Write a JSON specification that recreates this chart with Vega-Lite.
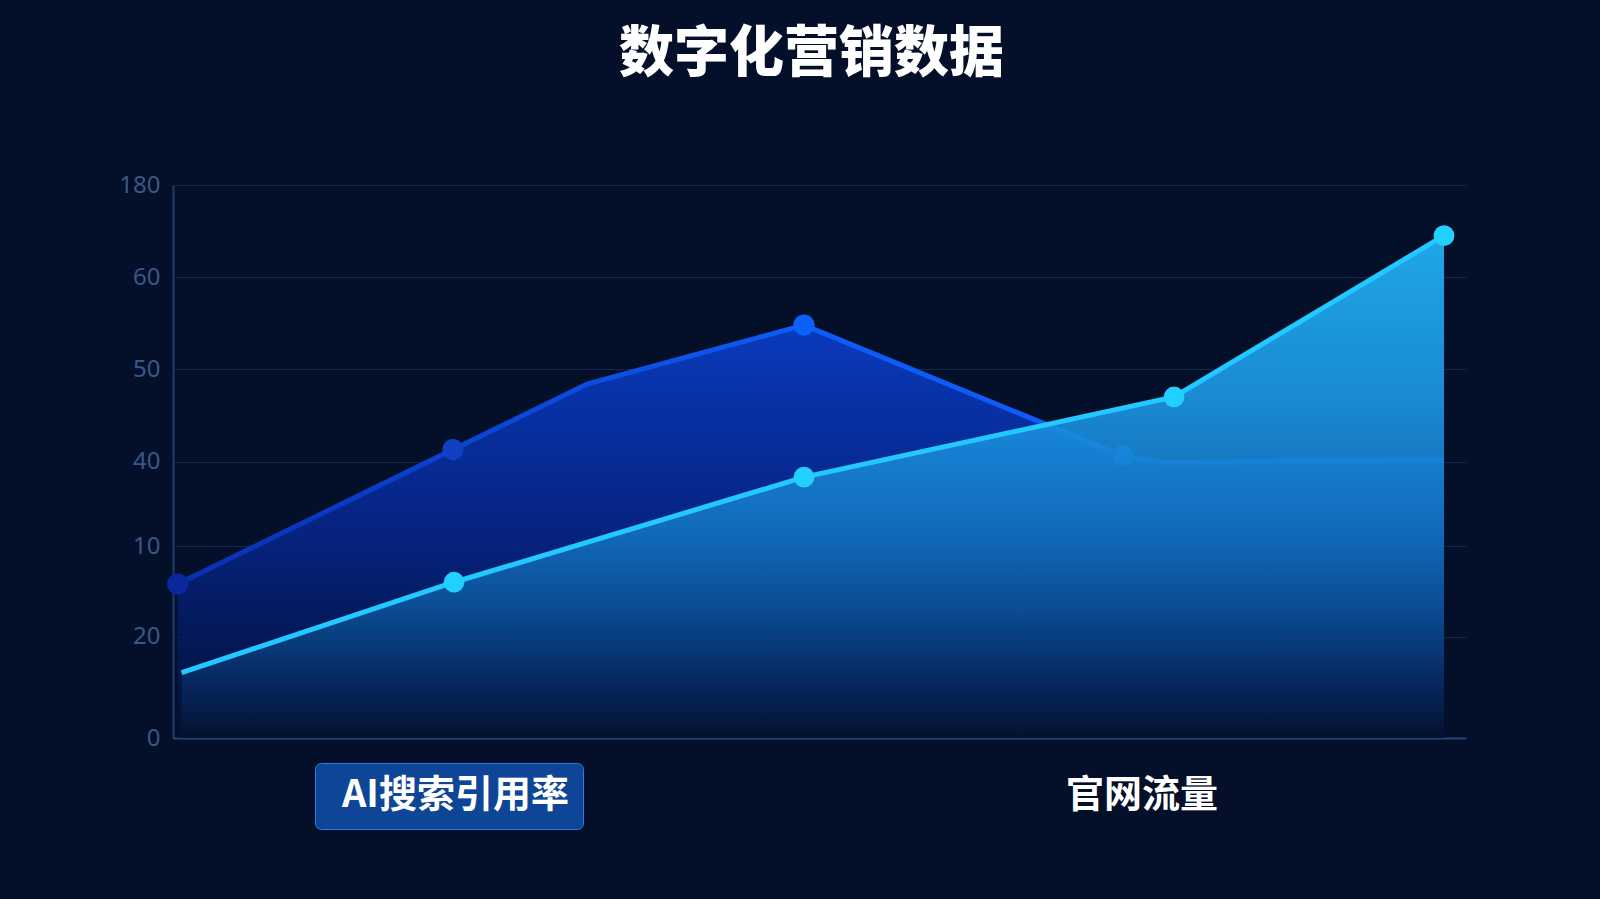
{
  "$schema": "https://vega.github.io/schema/vega-lite/v6.json",
  "width": 1293,
  "height": 553,
  "autosize": {"type": "none"},
  "padding": {"left": 173, "top": 185, "right": 134, "bottom": 161},
  "background": "#040f2a",
  "title": {
    "text": "数字化营销数据",
    "font": "Noto Sans CJK SC",
    "fontSize": 55,
    "fontWeight": 900,
    "color": "#ffffff",
    "anchor": "middle",
    "baseline": "bottom",
    "dx": -8,
    "offset": 35
  },
  "config": {
    "view": {"stroke": null},
    "legend": {
      "orient": "none",
      "title": null,
      "labelFont": "Noto Sans CJK SC",
      "labelFontSize": 38,
      "labelFontWeight": "bold",
      "labelColor": "#ffffff",
      "labelLimit": 500,
      "labelOffset": -25,
      "labelExpr": "datum.label + '\u00a0\u00a0'",
      "symbolSize": 64,
      "symbolOpacity": 0,
      "symbolStrokeWidth": 0,
      "padding": 14
    }
  },
  "datasets": {
    "ai": [
      {"series": "AI搜索引用率", "x": 4.6, "y": 1.67, "marked": true},
      {"series": "AI搜索引用率", "x": 280, "y": 3.13, "marked": true},
      {"series": "AI搜索引用率", "x": 414, "y": 3.84, "marked": false},
      {"series": "AI搜索引用率", "x": 631, "y": 4.48, "marked": true},
      {"series": "AI搜索引用率", "x": 950, "y": 3.06, "marked": true},
      {"series": "AI搜索引用率", "x": 990, "y": 2.99, "marked": false},
      {"series": "AI搜索引用率", "x": 1271, "y": 3.02, "marked": false}
    ],
    "web": [
      {"series": "官网流量", "x": 8.6, "y": 0.71, "marked": false},
      {"series": "官网流量", "x": 281, "y": 1.69, "marked": true},
      {"series": "官网流量", "x": 631, "y": 2.83, "marked": true},
      {"series": "官网流量", "x": 1001, "y": 3.7, "marked": true},
      {"series": "官网流量", "x": 1271, "y": 5.45, "marked": true}
    ]
  },
  "encoding": {
    "x": {
      "field": "x",
      "type": "quantitative",
      "scale": {"domain": [0, 1293], "nice": false},
      "axis": {
        "title": null,
        "labels": false,
        "ticks": false,
        "grid": false,
        "domainColor": "#24467a",
        "domainWidth": 2
      }
    },
    "y": {
      "field": "y",
      "type": "quantitative",
      "scale": {"domain": [0, 6], "nice": false},
      "axis": {
        "title": null,
        "values": [0, 1.1, 2.08, 3, 4, 5, 6],
        "labelExpr": "datum.value == 0 ? '0' : datum.value < 1.5 ? '20' : datum.value < 2.5 ? '10' : datum.value < 3.5 ? '40' : datum.value < 4.5 ? '50' : datum.value < 5.5 ? '60' : '180'",
        "ticks": false,
        "domainColor": "#1f3c6c",
        "domainWidth": 2,
        "gridColor": "#12284f",
        "gridWidth": 1,
        "labelColor": "#3b5787",
        "labelFont": "Noto Sans",
        "labelFontSize": 24,
        "labelPadding": 13
      }
    }
  },
  "layer": [
    {
      "data": {"name": "ai"},
      "mark": {
        "type": "area",
        "opacity": 0.95,
        "color": {
          "gradient": "linear",
          "x1": 0, "y1": 0, "x2": 0, "y2": 1,
          "stops": [
            {"offset": 0, "color": "#0a3cc4"},
            {"offset": 0.45, "color": "#06268c"},
            {"offset": 1, "color": "#030f33"}
          ]
        }
      }
    },
    {
      "data": {"name": "ai"},
      "mark": {
        "type": "line",
        "strokeWidth": 5,
        "color": {
          "gradient": "linear",
          "x1": 0, "y1": 0, "x2": 1, "y2": 0,
          "stops": [
            {"offset": 0, "color": "#0830b0"},
            {"offset": 0.5, "color": "#0d5cf8"},
            {"offset": 1, "color": "#0d5cf8"}
          ]
        }
      }
    },
    {
      "data": {"name": "ai"},
      "transform": [{"filter": "datum.marked"}],
      "mark": {"type": "point", "filled": true, "size": 450, "opacity": 1},
      "encoding": {
        "color": {
          "field": "x",
          "type": "quantitative",
          "scale": {"domain": [0, 640], "range": ["#08289a", "#0a62fa"], "clamp": true},
          "legend": null
        },
        "shape": {
          "field": "series",
          "type": "nominal",
          "scale": {"range": ["circle"]},
          "legend": {
            "legendX": 142,
            "legendY": 578,
            "symbolSize": 64,
            "cornerRadius": 6,
            "fillColor": "#0f4596",
            "strokeColor": "#2f7de0",
            "encode": {
              "symbols": {"update": {"size": {"value": 64}, "opacity": {"value": 0}}},
              "legend": {
                "update": {
                  "strokeWidth": {"value": 2},
                  "fill": {
                    "value": {
                      "gradient": "linear",
                      "x1": 0, "y1": 0, "x2": 0, "y2": 1,
                      "stops": [
                        {"offset": 0, "color": "#1659b8"},
                        {"offset": 1, "color": "#0a3277"}
                      ]
                    }
                  }
                }
              }
            }
          }
        }
      }
    },
    {
      "data": {"name": "web"},
      "mark": {
        "type": "area",
        "opacity": 0.9,
        "color": {
          "gradient": "linear",
          "x1": 0, "y1": 0, "x2": 0, "y2": 1,
          "stops": [
            {"offset": 0, "color": "#22b8fb"},
            {"offset": 0.32, "color": "#1c98e6"},
            {"offset": 0.6, "color": "#1270c0"},
            {"offset": 0.75, "color": "#0b4f96"},
            {"offset": 0.9, "color": "#06275e"},
            {"offset": 1, "color": "#04122e"}
          ]
        }
      }
    },
    {
      "data": {"name": "web"},
      "mark": {"type": "line", "strokeWidth": 5, "color": "#22c8ff"}
    },
    {
      "data": {"name": "web"},
      "transform": [{"filter": "datum.marked"}],
      "mark": {"type": "point", "filled": true, "size": 430, "opacity": 1, "color": "#22d0ff"},
      "encoding": {
        "shape": {
          "field": "series",
          "type": "nominal",
          "scale": {"range": ["circle"]},
          "legend": {
            "legendX": 866,
            "legendY": 578,
            "symbolSize": 64,
            "encode": {
              "symbols": {"update": {"size": {"value": 64}, "opacity": {"value": 0}}}
            }
          }
        }
      }
    }
  ],
  "resolve": {
    "scale": {"shape": "independent", "color": "independent"},
    "legend": {"shape": "independent", "color": "independent"}
  }
}
